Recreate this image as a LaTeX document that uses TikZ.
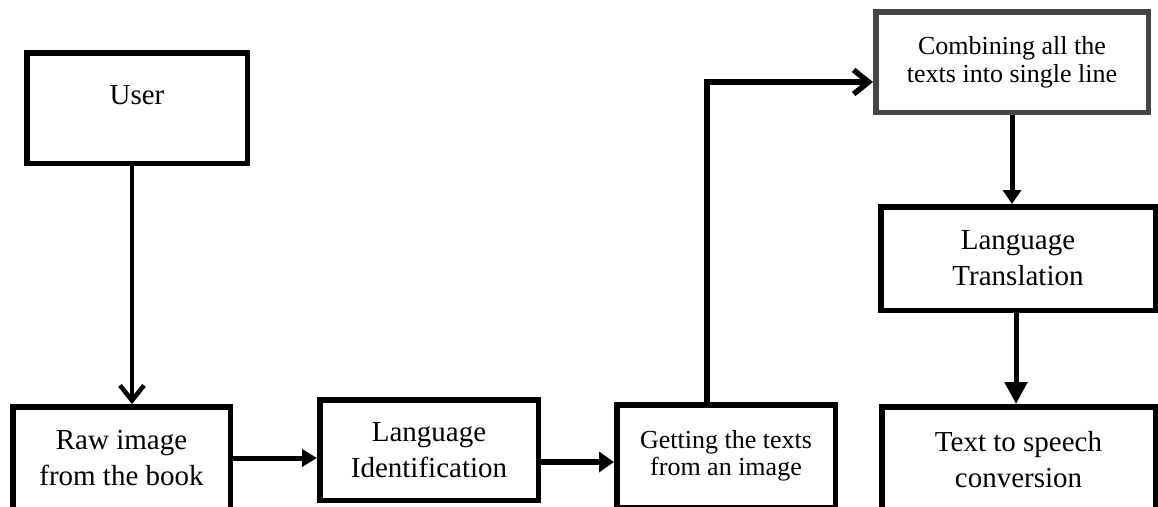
\documentclass[tikz,border=0pt]{standalone}
\usepackage{fontspec}
\setmainfont{Liberation Serif}
\usepackage{tikz}
\usetikzlibrary{arrows.meta}
\tikzstyle{stage} = [draw=black, line width=5.5pt, rectangle, align=center, inner sep=0pt, font=\fontsize{29}{36}\selectfont]
\tikzstyle{smalltext} = [font=\fontsize{26}{27.5}\selectfont]
\tikzstyle{flow} = [line width=5pt, -{Triangle[length=15pt, width=17pt]}]
\tikzstyle{openflow} = [line width=4.5pt, -{Straight Barb[length=15pt, width=24pt]}]

\begin{document}
\begin{tikzpicture}[x=1pt, y=-1pt]
\useasboundingbox (0,0) rectangle (1158,506);
% left part
\node [stage, minimum width=220.5pt, minimum height=110.5pt, text height=20pt, text depth=28pt] (user) at (137,108) {User};
\node [stage, minimum width=217.5pt, minimum height=102.5pt] (raw) at (121.5,458) {Raw image\\from the book};
\node [stage, minimum width=218.5pt, minimum height=100.5pt] (lang) at (429,450) {Language\\Identification};
\node [stage, smalltext, minimum width=218.5pt, minimum height=102.5pt] (get) at (726,456) {Getting the texts\\from an image};
% right column
\node [stage, smalltext, draw=black!73, minimum width=272.5pt, minimum height=100.5pt, text height=48pt, text depth=8pt] (comb) at (1012,62) {Combining all the\\texts into single line};
\node [stage, minimum width=274.5pt, minimum height=103.5pt] (trans) at (1018,258.5) {Language\\Translation};
\node [stage, minimum width=273.5pt, minimum height=106.5pt] (tts) at (1018.5,460) {Text to speech\\conversion};

\draw [openflow] ([xshift=-5pt]user.south) -- ([xshift=-5pt]user.south |- raw.north);
\draw [flow] (raw.east) -- (raw.east -| lang.west);
\draw [flow, line width=6.5pt, -{Triangle[length=15pt, width=20pt]}] ([yshift=-12pt]lang.east) -- ([yshift=-12pt]lang.east -| get.west);
\draw [openflow, line width=5.5pt] ([xshift=-19pt]get.north) |- ([yshift=-20pt]comb.west);
\draw [flow, -{Triangle[length=14pt, width=18pt]}] (comb.south) -- (comb.south |- trans.north);
\draw [flow, -{Triangle[length=22pt, width=22pt]}] ([xshift=-2pt]trans.south) -- ([xshift=-2pt]trans.south |- tts.north);
\end{tikzpicture}
\end{document}
